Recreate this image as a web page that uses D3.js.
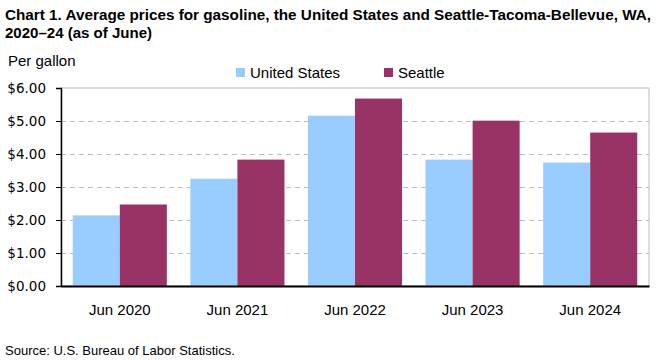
<!DOCTYPE html>
<html>
<head>
<meta charset="utf-8">
<script src="https://cdn.jsdelivr.net/npm/d3@7"></script>
<style>
  body { margin: 0; background: #fff; }
  text { font-family: "Liberation Sans", Arial, sans-serif; fill: #000; }
</style>
</head>
<body>
<div id="chart"></div>
<script>
// data
var categories = ["Jun 2020", "Jun 2021", "Jun 2022", "Jun 2023", "Jun 2024"],
    seriesNames = ["United States", "Seattle"],
    usValues = [2.14, 3.25, 5.16, 3.83, 3.74],
    seattleValues = [2.47, 3.83, 5.68, 5.01, 4.65],
    yTicks = [0, 1, 2, 3, 4, 5, 6],
    colors = ["#99ccff", "#993366"];

var width = 661, height = 361;
var margin = {top: 88, left: 61, right: 12, bottom: 75};

var svg = d3.select("#chart").append("svg")
    .attr("width", width).attr("height", height);

var chartWidth = width - margin.left - margin.right,
    chartHeight = height - margin.top - margin.bottom;

var x0 = d3.scaleBand().domain(categories).range([0, chartWidth])
    .paddingInner(0.2).paddingOuter(0.1);
var x1 = d3.scaleBand().domain(seriesNames).range([0, x0.bandwidth()]);
var y = d3.scaleLinear().domain([0, 6]).range([chartHeight, 0]);

var g = svg.append("g").attr("transform", "translate(" + [margin.left, margin.top] + ")");

// frame (top/right in light grey)
g.append("rect")
    .attr("x", 0).attr("y", 0)
    .attr("width", chartWidth).attr("height", chartHeight)
    .attr("fill", "none").attr("stroke", "#bfbfbf").attr("stroke-width", 1);

// gridlines
g.append("g").selectAll("line")
    .data(yTicks.filter(function (d) { return d > 0 && d < 6; }))
    .enter().append("line")
    .attr("x1", 0).attr("x2", chartWidth)
    .attr("y1", function (d) { return Math.round(y(d)) + 0.5; })
    .attr("y2", function (d) { return Math.round(y(d)) + 0.5; })
    .attr("stroke", "#bfbfbf")
    .attr("stroke-dasharray", "5,4");

// bars
var rows = categories.map(function (c, i) {
    return {cat: c, vals: [usValues[i], seattleValues[i]]};
});

g.append("g").selectAll("g")
    .data(rows)
    .enter().append("g")
    .attr("transform", function (d) { return "translate(" + x0(d.cat) + ",0)"; })
    .selectAll("rect")
    .data(function (d) { return d.vals.map(function (v, j) { return {name: seriesNames[j], v: v, j: j}; }); })
    .enter().append("rect")
    .attr("x", function (d) { return x1(d.name); })
    .attr("width", x1.bandwidth())
    .attr("y", function (d) { return y(d.v); })
    .attr("height", function (d) { return chartHeight - y(d.v); })
    .attr("fill", function (d) { return colors[d.j]; });

// y axis
var yAxis = g.append("g")
    .call(d3.axisLeft(y).tickValues(yTicks).tickSize(5).tickPadding(10)
        .tickFormat(function (d) { return "$" + d3.format(".2f")(d); }));
yAxis.select(".domain").attr("stroke", "#000").attr("stroke-width", 1.5);
yAxis.selectAll(".tick line").attr("stroke", "#000");
yAxis.selectAll("text")
    .style("font-family", "'DejaVu Sans', Verdana, sans-serif")
    .style("font-size", "13.5px").attr("fill", "#000");

// x axis
var xAxis = g.append("g")
    .attr("transform", "translate(0," + chartHeight + ")")
    .call(d3.axisBottom(x0).tickSize(0).tickPadding(18));
xAxis.select(".domain").attr("stroke", "#000").attr("stroke-width", 2);
xAxis.selectAll("text").style("font-size", "15px").attr("fill", "#000");

// title
svg.append("text").attr("x", 5).attr("y", 20)
    .style("font-weight", "bold").style("font-size", "14px")
    .attr("textLength", 646).attr("lengthAdjust", "spacingAndGlyphs")
    .text("Chart 1. Average prices for gasoline, the United States and Seattle-Tacoma-Bellevue, WA,");
svg.append("text").attr("x", 5).attr("y", 38)
    .style("font-weight", "bold").style("font-size", "14px")
    .attr("textLength", 147).attr("lengthAdjust", "spacingAndGlyphs")
    .text("2020\u201324 (as of June)");

// unit label
svg.append("text").attr("x", 8).attr("y", 66)
    .style("font-size", "15px")
    .text("Per gallon");

// legend
var legendX = [236, 384];
var legend = svg.append("g").selectAll("g")
    .data(seriesNames)
    .enter().append("g")
    .attr("transform", function (d, i) { return "translate(" + legendX[i] + ",68)"; });
legend.append("rect").attr("width", 9).attr("height", 9)
    .attr("fill", function (d, i) { return colors[i]; });
legend.append("text").attr("x", 14).attr("y", 9.5)
    .style("font-size", "15px")
    .text(function (d) { return d; });

// source
svg.append("text").attr("x", 5).attr("y", 355)
    .style("font-size", "13px")
    .text("Source: U.S. Bureau of Labor Statistics.");
</script>
</body>
</html>
